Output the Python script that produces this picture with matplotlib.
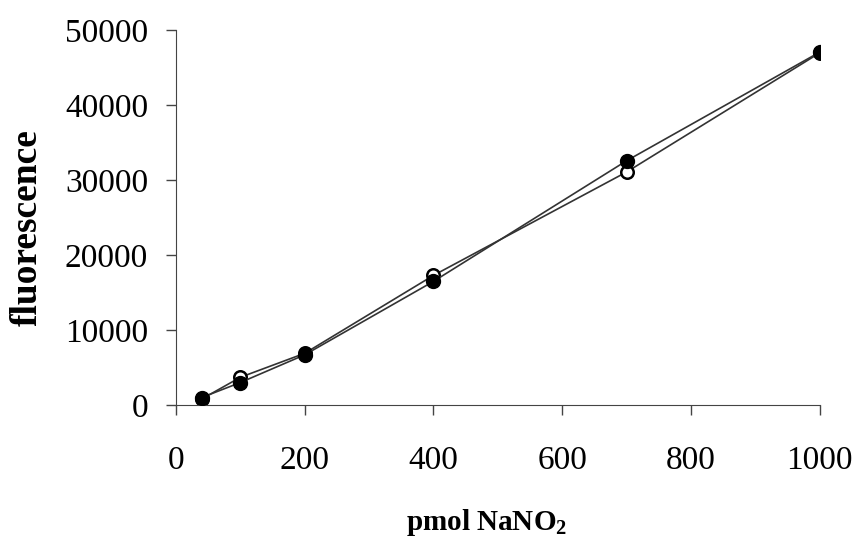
import matplotlib
matplotlib.use("Agg")
import matplotlib.pyplot as plt

plt.rcParams['font.family'] = ['Liberation Serif', 'DejaVu Serif']
plt.rcParams['mathtext.fontset'] = 'custom'
plt.rcParams['mathtext.rm'] = 'Liberation Serif'
plt.rcParams['mathtext.bf'] = 'Liberation Serif:bold'

pmol = [40, 100, 200, 400, 700, 1000]
fluor_open = [800, 3700, 6900, 17300, 31100, 47000]
fluor_filled = [1000, 3000, 6700, 16500, 32600, 47100]

fig = plt.figure(figsize=(8.56, 5.39), dpi=100)
ax = fig.add_axes([0.2056, 0.2486, 0.752, 0.695])

ax.plot(pmol, fluor_open, color='#333333', lw=1.2, marker='o', ms=9,
        mfc='white', mec='black', mew=1.8, zorder=2)
ax.plot(pmol, fluor_filled, color='#333333', lw=1.2, marker='o', ms=10,
        mfc='black', mec='black', zorder=3)

ax.set_xlim(0, 1000)
ax.set_ylim(0, 50000)
ax.set_xticks(range(0, 1001, 200))
ax.set_yticks(range(0, 50001, 10000))
ax.spines['top'].set_visible(False)
ax.spines['right'].set_visible(False)
ax.spines['left'].set_color('#444444')
ax.spines['bottom'].set_color('#444444')
ax.tick_params(direction='out', length=7, width=1, color='#444444',
               labelsize=24)
ax.tick_params(axis='y', pad=13)
ax.tick_params(axis='x', pad=22)

ax.set_ylabel('fluorescence', fontsize=27, fontweight='bold')
ax.yaxis.label.set_va('center')
ax.yaxis.set_label_coords(-0.231, 0.475)
ax.set_xlabel(r'pmol NaNO$_\mathbf{2}$', fontsize=21, fontweight='bold')
ax.xaxis.label.set_va('baseline')
ax.xaxis.set_label_coords(0.482, -0.334)

fig.savefig('out.png', dpi=100)
